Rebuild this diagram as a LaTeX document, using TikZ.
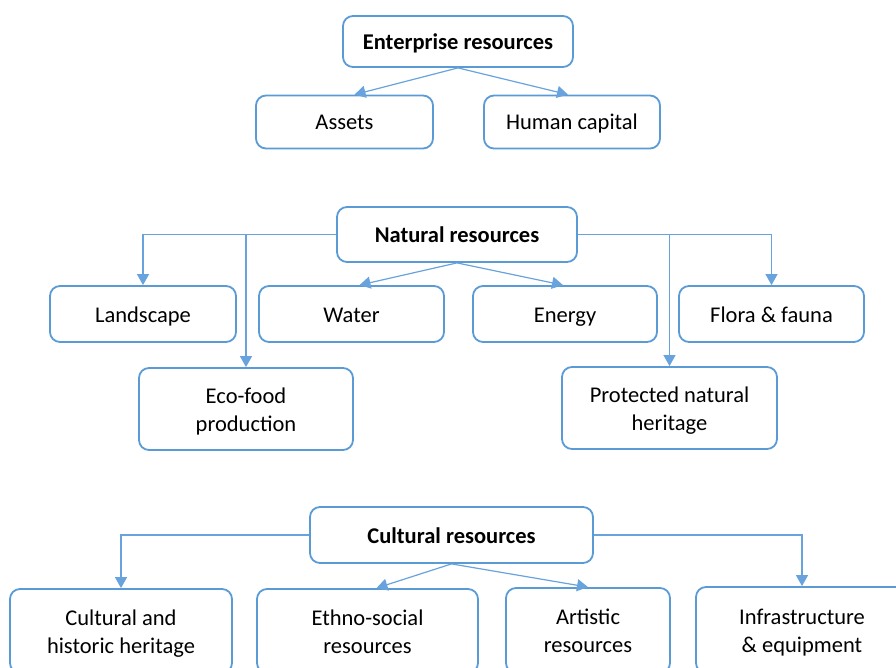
\documentclass[tikz,border=0pt]{standalone}
\usepackage{fontspec}
\setmainfont{Carlito}
\usetikzlibrary{arrows.meta}
\definecolor{boxblue}{RGB}{91,155,213}
\definecolor{lineblue}{RGB}{104,163,222}
\begin{document}
\begin{tikzpicture}[x=1pt,y=-1pt,
box/.style={draw=boxblue,line width=1.8pt,rounded corners=10pt,align=center,inner sep=0pt,font=\fontsize{22.5}{28}\selectfont,text=black},
one/.style={box,text height=19pt,text depth=3pt},
two/.style={box,text height=48pt,text depth=3.5pt},
head/.style={one,font=\fontsize{22.5}{28}\selectfont\bfseries},
arr/.style={draw=lineblue,line width=1.2pt,-{Triangle[length=11pt,width=12pt]}}]
\useasboundingbox(0,0)rectangle(896,668);
\clip(0,0)rectangle(896,668);
\node[head,minimum width=230pt,minimum height=51pt](ent)at(458,41.5){Enterprise resources};
\node[one,minimum width=177pt,minimum height=53pt](assets)at(344.5,122){Assets};
\node[one,minimum width=176pt,minimum height=53pt](hc)at(572,122){Human capital};
\node[head,minimum width=240pt,minimum height=55pt](nat)at(457,234.5){Natural resources};
\node[one,minimum width=186pt,minimum height=56pt](land)at(143,314){Landscape};
\node[one,minimum width=185pt,minimum height=56pt](water)at(351.5,314){Water};
\node[one,minimum width=184pt,minimum height=56pt](energy)at(565,314){Energy};
\node[one,minimum width=185pt,minimum height=56pt](flora)at(771.5,314){Flora \& fauna};
\node[two,minimum width=214pt,minimum height=82pt](eco)at(246,409){Eco-food\\production};
\node[two,minimum width=215pt,minimum height=82pt](prot)at(669.5,408){Protected natural\\heritage};
\node[head,minimum width=283pt,minimum height=56pt](cult)at(451.5,535){Cultural resources};
\node[two,minimum width=222pt,minimum height=84pt](chh)at(121,631){Cultural and\\historic heritage};
\node[two,minimum width=221pt,minimum height=84pt](ethno)at(367.5,631){Ethno-social\\resources};
\node[two,minimum width=164pt,minimum height=85pt](art)at(588,630.5){Artistic\\resources};
\node[two,minimum width=212pt,minimum height=86pt](infra)at(802,630){Infrastructure\\\& equipment};
\draw[arr](ent.south)--([xshift=10pt]assets.north);
\draw[arr](ent.south)--([xshift=-4pt]hc.north);
\draw[arr](nat.west)-|(land.north);
\draw[arr](nat.west)-|(eco.north);
\draw[arr](nat.south)--([xshift=8pt]water.north);
\draw[arr](nat.south)--([xshift=-2pt]energy.north);
\draw[arr](nat.east)-|(prot.north);
\draw[arr](nat.east)-|(flora.north);
\draw[arr](cult.west)-|(chh.north);
\draw[arr](cult.south)--([xshift=9pt]ethno.north);
\draw[arr](cult.south)--(art.north);
\draw[arr](cult.east)-|(infra.north);
\end{tikzpicture}
\end{document}
